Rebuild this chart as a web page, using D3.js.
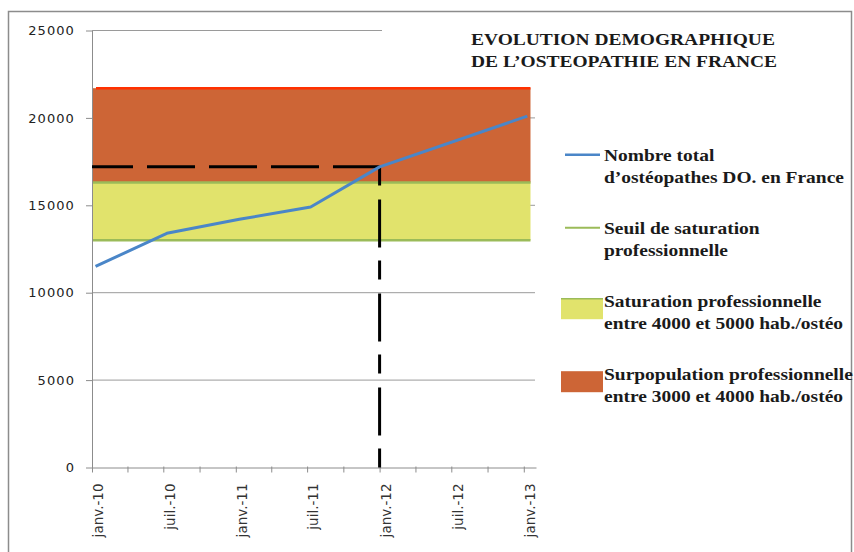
<!DOCTYPE html>
<html>
<head>
<meta charset="utf-8">
<script src="https://cdn.jsdelivr.net/npm/d3@7"></script>
<style>
  body { margin: 0; background: #fff; }
  svg { display: block; }
</style>
</head>
<body>
<svg id="chart" width="854" height="552"></svg>
<script>
// values
const dates = ["2010-01-10", "2010-07-10", "2011-01-10", "2011-07-10", "2012-01-01", "2013-01-10"];
const osteopathes = [11500, 13400, 14200, 14900, 17200, 20100];

// population / hab. per osteo
const saturationBand = [13000, 16300];
const surpopulationBand = [16300, 21700];
const seuilLines = [13000, 16300];
const bandStart = "2010-01-01";
const bandEnd = "2013-01-18";

const markerDate = "2012-01-01";
const markerValue = 17200;

const xTickLabels = ["janv.-10", "juil.-10", "janv.-11", "juil.-11", "janv.-12", "juil.-12", "janv.-13"];
const yTicks = [0, 5000, 10000, 15000, 20000, 25000];

const titleLines = ["EVOLUTION DEMOGRAPHIQUE", "DE L\u2019OSTEOPATHIE EN FRANCE"];
const legendLabels = [
    ["Nombre total", "d\u2019ost\u00e9opathes DO. en France"],
    ["Seuil de saturation", "professionnelle"],
    ["Saturation professionnelle", "entre 4000 et 5000 hab./ost\u00e9o"],
    ["Surpopulation professionnelle", "entre 3000 et 4000 hab./ost\u00e9o"]
];

const colors = {
    line: "#4a86c8",
    seuil: "#9bbb59",
    saturation: "#e1e36c",
    surpop: "#cd6536",
    top: "#ff3000",
    grid: "#8c8c8c"
};

const parse = d3.timeParse("%Y-%m-%d");
const serif = "'Liberation Serif', 'Times New Roman', serif";
const sans = "'DejaVu Sans', Verdana, sans-serif";
const stretch = 1.18; // the source picture is widened a little

const svg = d3.select("#chart");

// outer frame
svg.append("rect")
    .attr("x", 8.5).attr("y", 11.5)
    .attr("width", 843).attr("height", 545)
    .attr("fill", "none")
    .attr("stroke", colors.grid)
    .attr("stroke-width", 1.5);

const x = d3.scaleTime()
    .domain([parse("2010-01-01"), parse("2013-02-01")])
    .range([92, 536]);

const y = d3.scaleLinear()
    .domain([0, 25000])
    .range([467.5, 30.5]);

// gridlines
svg.append("g")
    .selectAll("line")
    .data(yTicks.slice(1))
    .enter()
    .append("line")
    .attr("x1", 92).attr("x2", 535)
    .attr("y1", d => y(d)).attr("y2", d => y(d))
    .attr("stroke", "#9a9a9a")
    .attr("stroke-width", 1);

// bands
function band(range, fill) {
    svg.append("rect")
        .attr("x", x(parse(bandStart)))
        .attr("y", y(range[1]))
        .attr("width", x(parse(bandEnd)) - x(parse(bandStart)))
        .attr("height", y(range[0]) - y(range[1]))
        .attr("fill", fill);
}
band(surpopulationBand, colors.surpop);
band(saturationBand, colors.saturation);

svg.append("line")
    .attr("x1", x(parse(bandStart)) + 4).attr("x2", x(parse(bandEnd)))
    .attr("y1", y(surpopulationBand[1])).attr("y2", y(surpopulationBand[1]))
    .attr("stroke", colors.top)
    .attr("stroke-width", 2.5);

svg.append("g")
    .selectAll("line")
    .data(seuilLines)
    .enter()
    .append("line")
    .attr("x1", x(parse(bandStart)) + 1).attr("x2", x(parse(bandEnd)))
    .attr("y1", d => y(d)).attr("y2", d => y(d))
    .attr("stroke", colors.seuil)
    .attr("stroke-width", 2.5);

// axes
const yAxis = svg.append("g")
    .attr("transform", "translate(92,0)")
    .call(d3.axisLeft(y)
        .tickValues(yTicks)
        .tickFormat(d3.format("d"))
        .tickSize(6)
        .tickPadding(11)
        .tickSizeOuter(0));
yAxis.select(".domain").attr("stroke", colors.grid);
yAxis.selectAll(".tick line").attr("stroke", colors.grid);
yAxis.selectAll("text")
    .style("font-family", sans)
    .style("font-size", "13px")
    .style("letter-spacing", "1.1px")
    .attr("fill", "#222");

const quarters = d3.timeMonth.every(3).range(parse("2010-01-01"), parse("2013-01-02"));
const xAxis = svg.append("g")
    .attr("transform", "translate(0,467.5)")
    .call(d3.axisBottom(x)
        .tickValues(quarters)
        .tickSizeInner(5)
        .tickSizeOuter(0)
        .tickFormat((d, i) => i % 2 === 0 ? xTickLabels[i / 2] : ""));
xAxis.select(".domain").attr("stroke", colors.grid);
xAxis.selectAll(".tick line").attr("stroke", colors.grid).attr("y1", -1);
xAxis.selectAll("text")
    .attr("transform", "rotate(-90)")
    .attr("x", -16)
    .attr("y", 6)
    .attr("dy", "0.35em")
    .style("text-anchor", "end")
    .style("font-family", sans)
    .style("font-size", "13.5px")
    .attr("fill", "#333");

// dashed marker
svg.append("path")
    .attr("d", d3.line()([
        [x(parse("2010-01-01")), y(markerValue)],
        [x(parse(markerDate)), y(markerValue)]
    ]))
    .attr("stroke", "#000")
    .attr("stroke-width", 3)
    .attr("stroke-dasharray", "48,14")
    .attr("stroke-dashoffset", 7)
    .attr("fill", "none");

svg.append("path")
    .attr("d", d3.line()([
        [x(parse(markerDate)), y(0)],
        [x(parse(markerDate)), y(markerValue)]
    ]))
    .attr("stroke", "#000")
    .attr("stroke-width", 3)
    .attr("stroke-dasharray", "19,13,48,14")
    .attr("fill", "none");

// series
const points = dates.map((d, i) => [x(parse(d)), y(osteopathes[i])]);
svg.append("path")
    .attr("d", d3.line()(points))
    .attr("fill", "none")
    .attr("stroke", colors.line)
    .attr("stroke-width", 3)
    .attr("stroke-linejoin", "round");

// title (white box hides the top gridline)
svg.append("rect")
    .attr("x", 382).attr("y", 18)
    .attr("width", 160).attr("height", 62)
    .attr("fill", "#fff");

titleLines.forEach((t, i) => {
    svg.append("text")
        .attr("transform", "translate(471," + (45 + i * 21.5) + ") scale(" + stretch + ",1)")
        .style("font-family", serif)
        .style("font-weight", "bold")
        .style("font-size", "16.5px")
        .attr("fill", "#1a1a1a")
        .text(t);
});

// legend
const legendTop = 160.7;
const legendStep = 73;
legendLabels.forEach((lines, i) => {
    const base = legendTop + i * legendStep;
    if (i < 2) {
        svg.append("line")
            .attr("x1", 565).attr("x2", 600)
            .attr("y1", base - 6).attr("y2", base - 6)
            .attr("stroke", i === 0 ? colors.line : colors.seuil)
            .attr("stroke-width", i === 0 ? 2.5 : 2);
    } else {
        svg.append("rect")
            .attr("x", 561).attr("y", base - 8.5)
            .attr("width", 42).attr("height", 21)
            .attr("fill", i === 2 ? colors.saturation : colors.surpop);
        if (i === 2) {
            svg.append("line")
                .attr("x1", 561).attr("x2", 603)
                .attr("y1", base - 8).attr("y2", base - 8)
                .attr("stroke", colors.seuil)
                .attr("stroke-width", 1.5);
        }
    }
    lines.forEach((t, j) => {
        svg.append("text")
            .attr("transform", "translate(604," + (base + j * 22.5) + ") scale(" + stretch + ",1)")
            .style("font-family", serif)
            .style("font-weight", "bold")
            .style("font-size", "16.5px")
            .attr("fill", "#1a1a1a")
            .text(t);
    });
});
</script>
</body>
</html>
